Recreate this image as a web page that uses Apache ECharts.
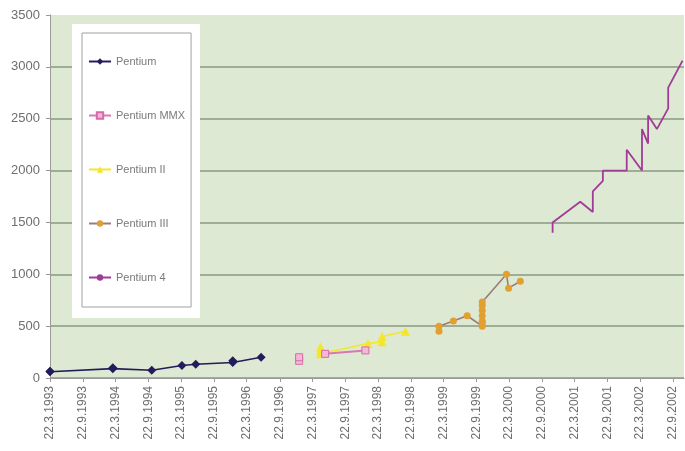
<!DOCTYPE html>
<html>
<head>
<meta charset="utf-8">
<script src="https://cdn.jsdelivr.net/npm/echarts@6/dist/echarts.min.js"></script>
<style>
  html, body { margin: 0; padding: 0; background: #fff; }
  #main { width: 685px; height: 451px; }
</style>
</head>
<body>
<div id="main"></div>
<script>
// x axis tick labels (every six months)
var tickLabels = ['22.3.1993','22.9.1993','22.3.1994','22.9.1994','22.3.1995','22.9.1995',
  '22.3.1996','22.9.1996','22.3.1997','22.9.1997','22.3.1998','22.9.1998','22.3.1999',
  '22.9.1999','22.3.2000','22.9.2000','22.3.2001','22.9.2001','22.3.2002','22.9.2002']

// release dates and clock speed (MHz)
var pentiumDates = ['1993-03-22','1993-03-22','1994-03-07','1994-03-07','1994-10-10','1995-03-27','1995-06-12','1996-01-04','1996-01-04','1996-06-10']
var pentiumMHz = [60,66,90,100,75,120,133,150,166,200]

var mmxDates = ['1997-01-08','1997-01-08','1997-03-15','1997-06-02','1998-01-12']
var mmxMHz = [166,200,null,233,266]

var p2Dates = ['1997-05-07','1997-05-07','1997-05-07','1998-01-26','1998-04-15','1998-04-15','1998-08-24']
var p2MHz = [300,266,233,333,350,400,450]

var p3Dates = ['1999-02-26','1999-02-26','1999-05-17','1999-08-02','1999-10-25','1999-10-25','1999-10-25','1999-10-25',
  '1999-10-25','1999-10-25','1999-10-25','2000-03-08','2000-03-20','2000-05-24']
var p3MHz = [450,500,550,600,500,533,550,600,650,700,733,1000,866,933]

var p4Dates = ['2000-11-20','2000-11-20','2001-04-23','2001-07-02','2001-07-02','2001-08-27','2001-08-27','2002-01-07',
  '2002-01-07','2002-04-02','2002-04-02','2002-04-02','2002-05-06','2002-05-06','2002-06-24','2002-08-26','2002-08-26','2002-11-14']
var p4MHz = [1400,1500,1700,1600,1800,1900,2000,2000,2200,2000,2260,2400,2260,2530,2400,2600,2800,3060]

function parseIso(s){
  var p=s.split('-')
  return Date.UTC(+p[0],+p[1]-1,+p[2])
}
function parseLabel(s){
  var p=s.split('.')
  return Date.UTC(+p[2],+p[1]-1,+p[0])
}
function toPoints(dates,values){
  return dates.map(function(d,i){ return [parseIso(d), values[i]==null ? '-' : values[i]] })
}

var tickValues = tickLabels.map(parseLabel)
var labelByTime = {}
tickLabels.forEach(function(l,i){ labelByTime[tickValues[i]] = l })

var chart = echarts.init(document.getElementById('main'))
var font = 'Liberation Sans, Arial, sans-serif'

var option = {
  animation:false,
  textStyle:{fontFamily:font},
  grid:{
    left:50, right:1, top:15, bottom:73,
    show:true, backgroundColor:'#dde9d3', borderWidth:0
  },
  graphic:[{
    type:'rect', z:1, silent:true,
    shape:{x:72, y:24, width:128, height:294},
    style:{fill:'#ffffff'}
  }],
  legend:{
    orient:'vertical', left:82, top:33,
    padding:[23,6,24,6], itemGap:43, itemWidth:22, itemHeight:8,
    backgroundColor:'#ffffff', borderColor:'#a0a0a0', borderWidth:1,
    textStyle:{fontSize:11, color:'#7a7a7a', fontFamily:font},
    data:['Pentium','Pentium MMX','Pentium II','Pentium III','Pentium 4']
  },
  xAxis:{
    type:'value',
    min:parseLabel('22.3.1993'),
    max:parseLabel('22.11.2002'),
    axisLine:{onZero:false, lineStyle:{color:'#9a9a9a', width:1}},
    axisTick:{show:true, customValues:tickValues, length:4, lineStyle:{color:'#9a9a9a'}},
    axisLabel:{
      customValues:tickValues, rotate:90, margin:8,
      fontSize:12, color:'#6e6e6e', fontFamily:font,
      formatter:function(v){ return labelByTime[v] || '' }
    },
    splitLine:{show:false}
  },
  yAxis:{
    type:'value', min:0, max:3500, interval:500,
    axisLine:{show:true, lineStyle:{color:'#9a9a9a'}},
    axisTick:{show:true, length:4, lineStyle:{color:'#9a9a9a'}},
    axisLabel:{fontSize:13, color:'#6e6e6e', margin:10, fontFamily:font,
      formatter:function(v){ return String(v) }},
    splitLine:{lineStyle:{
      color:['#8a9985','#8a9985','#8a9985','#8a9985','#8a9985','#8a9985','#8a9985','rgba(0,0,0,0)'],
      width:1.6
    }}
  },
  series:[
    {
      name:'Pentium', type:'line', data:toPoints(pentiumDates,pentiumMHz),
      symbol:'diamond', symbolSize:9, z:3,
      itemStyle:{color:'#221c5c'}, lineStyle:{color:'#221c5c', width:1.6}
    },
    {
      name:'Pentium MMX', type:'line', data:toPoints(mmxDates,mmxMHz), connectNulls:false,
      symbol:'rect', symbolSize:7, z:4,
      itemStyle:{color:'#f2b8d8', borderColor:'#d868a8', borderWidth:1},
      lineStyle:{color:'#d878b0', width:2}
    },
    {
      name:'Pentium II', type:'line', data:toPoints(p2Dates,p2MHz),
      symbol:'triangle', symbolSize:9, z:3,
      itemStyle:{color:'#f4e62c'}, lineStyle:{color:'#f4e62c', width:1.6}
    },
    {
      name:'Pentium III', type:'line', data:toPoints(p3Dates,p3MHz),
      symbol:'circle', symbolSize:7, z:3,
      itemStyle:{color:'#e2a030'}, lineStyle:{color:'#9a7c72', width:1.6}
    },
    {
      name:'Pentium 4', type:'line', data:toPoints(p4Dates,p4MHz),
      symbol:'none', z:3,
      itemStyle:{color:'#a03c98'}, lineStyle:{color:'#a03c98', width:1.8}
    }
  ]
}
chart.setOption(option)
</script>
</body>
</html>
